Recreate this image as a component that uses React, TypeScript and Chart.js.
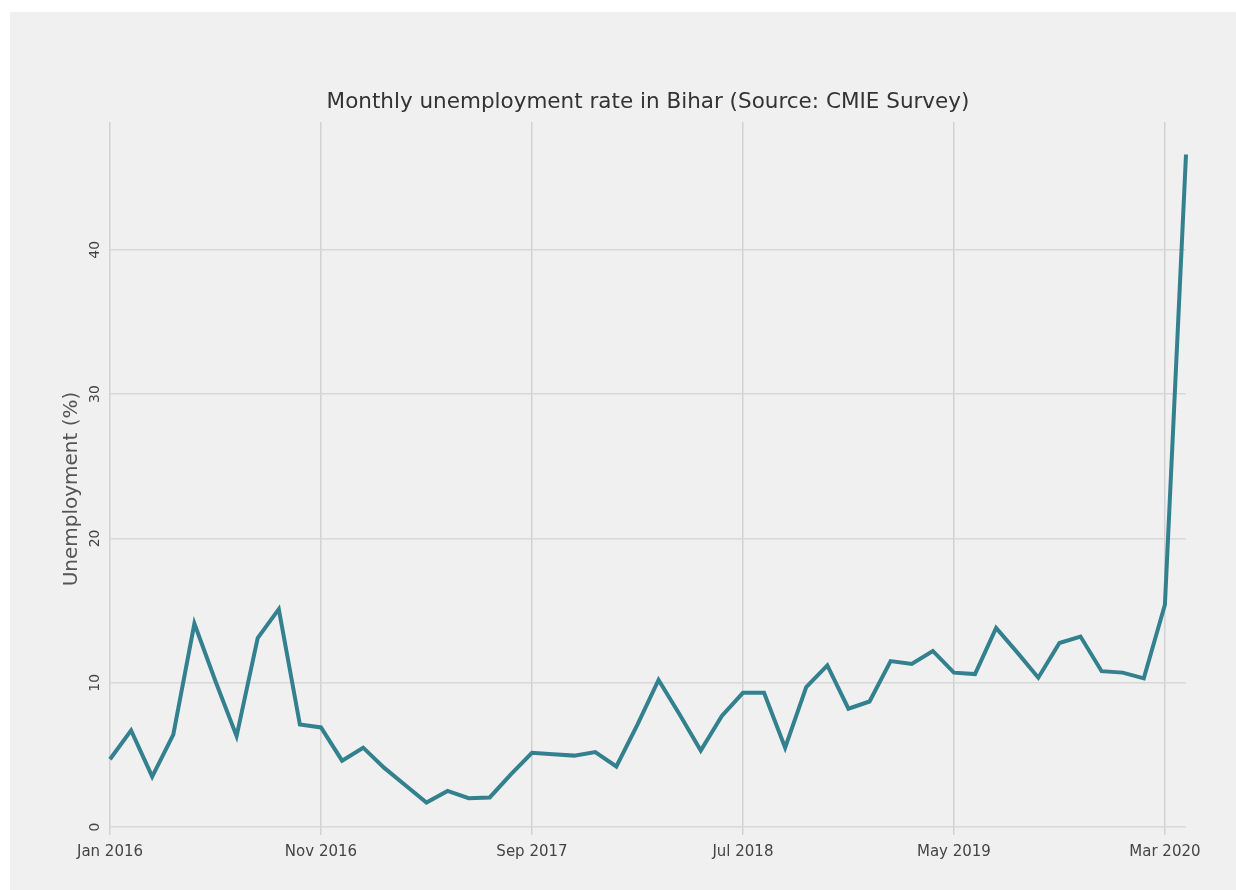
import { useEffect, useRef } from 'react';
import { Chart, registerables } from 'chart.js';

Chart.register(...registerables);

const months: string[] = [
  'Jan 2016', 'Feb 2016', 'Mar 2016', 'Apr 2016', 'May 2016', 'Jun 2016',
  'Jul 2016', 'Aug 2016', 'Sep 2016', 'Oct 2016', 'Nov 2016', 'Dec 2016',
  'Jan 2017', 'Feb 2017', 'Mar 2017', 'Apr 2017', 'May 2017', 'Jun 2017',
  'Jul 2017', 'Aug 2017', 'Sep 2017', 'Oct 2017', 'Nov 2017', 'Dec 2017',
  'Jan 2018', 'Feb 2018', 'Mar 2018', 'Apr 2018', 'May 2018', 'Jun 2018',
  'Jul 2018', 'Aug 2018', 'Sep 2018', 'Oct 2018', 'Nov 2018', 'Dec 2018',
  'Jan 2019', 'Feb 2019', 'Mar 2019', 'Apr 2019', 'May 2019', 'Jun 2019',
  'Jul 2019', 'Aug 2019', 'Sep 2019', 'Oct 2019', 'Nov 2019', 'Dec 2019',
  'Jan 2020', 'Feb 2020', 'Mar 2020', 'Apr 2020',
];

const unemployment: number[] = [
  4.7, 6.7, 3.5, 6.4, 14.1, 10.1, 6.3, 13.1, 15.1, 7.1, 6.9, 4.6,
  5.5, 4.1, 2.9, 1.7, 2.5, 2.0, 2.05, 3.65, 5.15, 5.05, 4.95, 5.2,
  4.2, 7.1, 10.2, 7.8, 5.3, 7.7, 9.3, 9.3, 5.5, 9.7, 11.2, 8.2,
  8.7, 11.5, 11.3, 12.2, 10.7, 10.6, 13.8, 12.1, 10.35, 12.75, 13.2, 10.8,
  10.7, 10.3, 15.4, 46.6,
];

const xTickLabels: string[] = ['Jan 2016', 'Nov 2016', 'Sep 2017', 'Jul 2018', 'May 2019', 'Mar 2020'];
const yTickValues: number[] = [0, 10, 20, 30, 40];

const chartTitle = 'Monthly unemployment rate in Bihar (Source: CMIE Survey)';
const yAxisTitle = 'Unemployment (%)';

const FONT = "'DejaVu Sans', sans-serif";

const backgroundPlugin = {
  id: 'pageBackground',
  beforeDraw(chart: any) {
    const { ctx, width, height } = chart;
    ctx.save();
    ctx.fillStyle = '#ffffff';
    ctx.fillRect(0, 0, width, height);
    ctx.fillStyle = '#f0f0f0';
    ctx.fillRect(10, 12, width - 10, height - 12);
    ctx.restore();
  },
  afterDraw(chart: any) {
    const { ctx, chartArea } = chart;
    ctx.save();
    ctx.font = `21.5px ${FONT}`;
    ctx.fillStyle = '#333333';
    ctx.textAlign = 'center';
    ctx.textBaseline = 'middle';
    ctx.fillText(chartTitle, (chartArea.left + chartArea.right) / 2, 102);
    ctx.translate(72, 489);
    ctx.rotate(-Math.PI / 2);
    ctx.font = `20px ${FONT}`;
    ctx.fillStyle = '#555555';
    ctx.fillText(yAxisTitle, 0, 0);
    ctx.restore();
  },
};

export default function App() {
  const canvasRef = useRef<HTMLCanvasElement | null>(null);

  useEffect(() => {
    if (!canvasRef.current) return;
    const chart = new Chart(canvasRef.current, {
      type: 'line',
      data: {
        labels: months,
        datasets: [
          {
            label: 'Unemployment',
            data: unemployment,
            borderColor: '#33808e',
            borderWidth: 4,
            pointRadius: 0,
            tension: 0,
            fill: false,
          },
        ],
      },
      options: {
        responsive: false,
        animation: false,
        layout: { padding: { top: 122, left: 10, right: 50, bottom: 0 } },
        plugins: {
          legend: { display: false },
          tooltip: { enabled: false },
          title: { display: false },
        },
        scales: {
          x: {
            type: 'category',
            offset: false,
            border: { display: false },
            grid: { color: '#d2d2d2', lineWidth: 1.5, drawTicks: false },
            ticks: {
              autoSkip: false,
              maxRotation: 0,
              minRotation: 0,
              padding: 8,
              color: '#444444',
              font: { family: FONT, size: 15 },
            },
            afterBuildTicks: (axis: any) => {
              axis.ticks = axis.ticks.filter((t: any) => xTickLabels.includes(months[t.value]));
            },
            afterFit: (axis: any) => {
              axis.height = 55;
            },
          },
          y: {
            type: 'linear',
            min: -0.55,
            max: 48.85,
            border: { display: false },
            grid: { color: '#d8d8d8', lineWidth: 1.5, drawTicks: false },
            ticks: {
              minRotation: 90,
              maxRotation: 90,
              crossAlign: 'center',
              padding: 6,
              color: '#444444',
              font: { family: FONT, size: 14 },
            },
            afterBuildTicks: (axis: any) => {
              axis.ticks = yTickValues.map((v) => ({ value: v }));
            },
            title: { display: false },
            afterFit: (axis: any) => {
              axis.width = 100;
            },
          },
        },
      },
      plugins: [backgroundPlugin],
    });
    return () => chart.destroy();
  }, []);

  return (
    <div style={{ position: 'fixed', left: 0, top: 0, width: 1236, height: 890 }}>
      <canvas ref={canvasRef} width={1236} height={890} style={{ display: 'block' }} />
    </div>
  );
}
